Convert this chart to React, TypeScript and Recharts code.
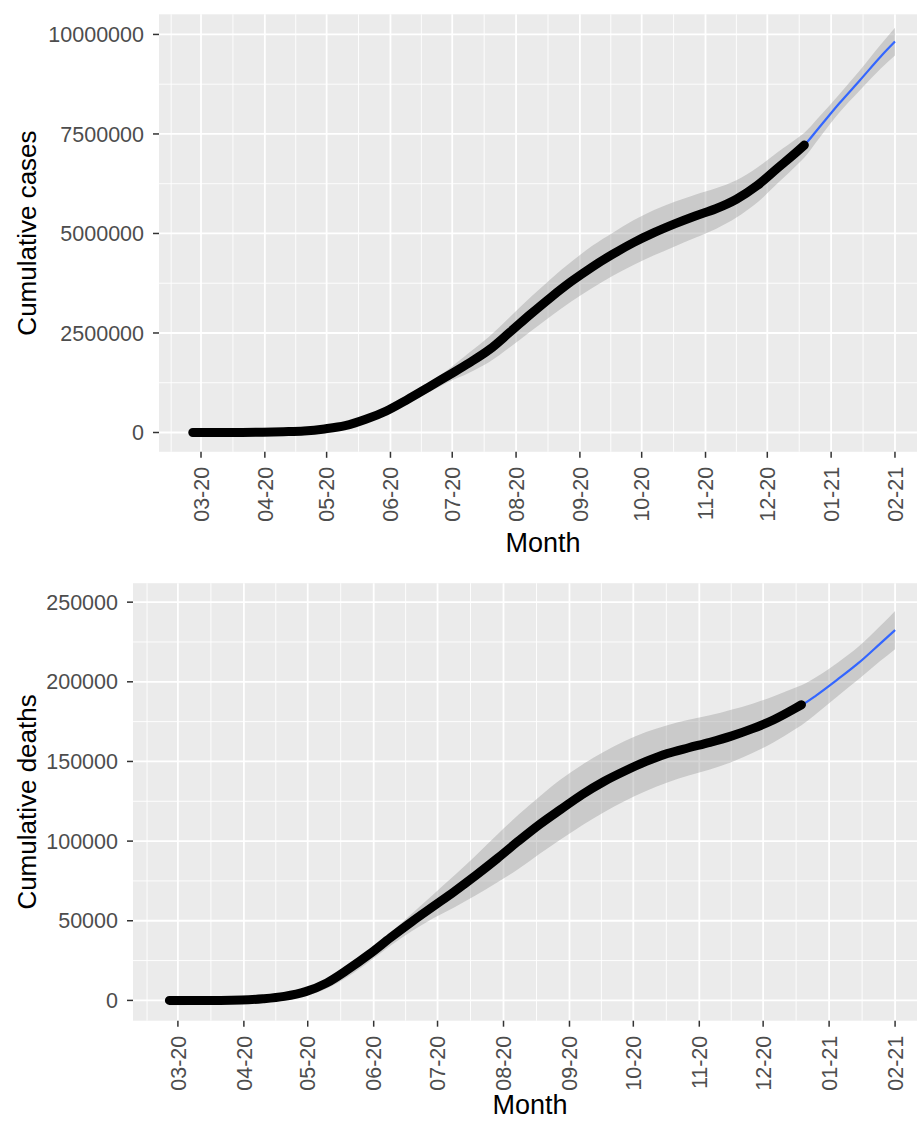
import React from 'react';
import { ComposedChart, Area, Line, XAxis, YAxis, CartesianGrid, Label } from 'recharts';

// days counted from 1 March 2020
const days = [-4, 0, 10, 20, 30, 40, 50, 60, 70, 80, 90, 100, 110, 120, 130, 140, 150, 160, 170, 180, 190, 200, 210, 220, 230, 240, 250, 260, 270, 280, 290, 293, 300, 310, 320, 330, 337];

const monthTicks = [0, 31, 61, 92, 122, 153, 184, 214, 245, 275, 306, 337];
const monthLabels = ['03-20', '04-20', '05-20', '06-20', '07-20', '08-20', '09-20', '10-20', '11-20', '12-20', '01-21', '02-21'];
const monthMinor = [-14.5, 15.5, 46, 76.5, 107, 137.5, 168.5, 199, 229.5, 260, 290.5, 321.5];

// observed values stop at day 293
const casesObserved = [0, 0, 0, 1000, 6000, 20000, 40000, 90000, 170000, 330000, 540000, 820000, 1120000, 1430000, 1740000, 2080000, 2520000, 2970000, 3400000, 3800000, 4160000, 4480000, 4770000, 5020000, 5240000, 5440000, 5620000, 5860000, 6200000, 6640000, 7080000, 7220000];
const casesFit = [-30000, -20000, -10000, 0, 5000, 20000, 45000, 95000, 180000, 330000, 545000, 815000, 1115000, 1425000, 1745000, 2090000, 2520000, 2965000, 3395000, 3795000, 4160000, 4480000, 4770000, 5020000, 5235000, 5435000, 5625000, 5870000, 6210000, 6650000, 7080000, 7220000, 7650000, 8270000, 8850000, 9440000, 9820000];
const casesLow = [-60000, -50000, -40000, -30000, -25000, -10000, 10000, 55000, 130000, 270000, 475000, 725000, 995000, 1265000, 1495000, 1770000, 2140000, 2535000, 2925000, 3295000, 3630000, 3940000, 4210000, 4450000, 4675000, 4895000, 5115000, 5400000, 5770000, 6260000, 6750000, 6910000, 7380000, 8040000, 8600000, 9140000, 9470000];
const casesHigh = [0, 10000, 20000, 30000, 35000, 50000, 80000, 135000, 230000, 390000, 615000, 905000, 1235000, 1585000, 1995000, 2410000, 2900000, 3395000, 3865000, 4295000, 4690000, 5020000, 5330000, 5590000, 5795000, 5975000, 6135000, 6340000, 6650000, 7040000, 7410000, 7530000, 7920000, 8500000, 9100000, 9740000, 10170000];
const casesTicks = [0, 2500000, 5000000, 7500000, 10000000];
const casesMinor = [1250000, 3750000, 6250000, 8750000];

const deathsObserved = [0, 0, 0, 10, 200, 1000, 2500, 5500, 11000, 19500, 29000, 39500, 49500, 59000, 68500, 78500, 89000, 100000, 110500, 120000, 129300, 137300, 144000, 150000, 155000, 158600, 162000, 165900, 170600, 176200, 183300, 185600];
const deathsFit = [-1500, -1500, -1200, -800, -200, 500, 1800, 4500, 9500, 17500, 27500, 38500, 49000, 59000, 68500, 78500, 89000, 99500, 110000, 120000, 129000, 137000, 144000, 150000, 154800, 158700, 162000, 166000, 170800, 176500, 183200, 185300, 191500, 201500, 212000, 224000, 232500];
const deathsLow = [-3000, -3000, -2700, -2300, -1700, -1000, 300, 2700, 7500, 15000, 24500, 34500, 43500, 51500, 58500, 66000, 74000, 82500, 92000, 101200, 110000, 118000, 125200, 131500, 136800, 141200, 145000, 149500, 155300, 162000, 170200, 172800, 180000, 191000, 201700, 213000, 220500];
const deathsHigh = [0, 0, 300, 700, 1300, 2000, 3300, 6300, 11500, 20000, 30500, 42500, 54500, 66500, 78500, 91000, 104000, 116500, 128000, 138800, 148000, 156000, 162800, 168500, 172800, 176200, 179000, 182500, 186300, 191000, 196200, 197800, 203000, 212000, 222300, 235000, 244500];
const deathsTicks = [0, 50000, 100000, 150000, 200000, 250000];
const deathsMinor = [25000, 75000, 125000, 175000, 225000];

const FONT = '"Liberation Sans", Arial, sans-serif';

function buildRows(obs: number[], fit: number[], low: number[], high: number[]) {
  return days.map((d, i) => ({
    day: d,
    obs: i < obs.length ? obs[i] : null,
    fit: fit[i],
    band: [low[i], high[i]],
  }));
}

const MonthTick = (props: any) => {
  const { x, y, payload } = props;
  const label = monthLabels[monthTicks.indexOf(payload.value)];
  return (
    <text x={x} y={y} transform={`rotate(-90, ${x}, ${y})`} textAnchor="end" dy="0.36em"
      fontSize={21.5} fill="#4D4D4D" fontFamily={FONT}
      style={{ fontSize: '21.5px', fill: '#4D4D4D', fontFamily: FONT }}>
      {label}
    </text>
  );
};

type PanelProps = {
  rows: any[];
  height: number;
  marginTop: number;
  yWidth: number;
  xDomain: number[];
  yDomain: number[];
  yTicks: number[];
  yMinor: number[];
  title: string;
  monthOffset: number;
};

const Panel = ({ rows, height, marginTop, yWidth, xDomain, yDomain, yTicks, yMinor, title, monthOffset }: PanelProps) => {
  const plotHeight = 437.5;
  const xAxisHeight = height - marginTop - plotHeight;
  return (
    <ComposedChart width={917} height={height} data={rows} margin={{ top: marginTop, right: 0, bottom: 0, left: 0 }}>
      <CartesianGrid fill="#EBEBEB" stroke="#FFFFFF" strokeWidth={0.9}
        horizontalValues={yMinor} verticalValues={monthMinor} />
      <CartesianGrid stroke="#FFFFFF" strokeWidth={1.8}
        horizontalValues={yTicks} verticalValues={monthTicks} />
      <XAxis dataKey="day" type="number" domain={xDomain} allowDataOverflow ticks={monthTicks} interval={0}
        height={xAxisHeight} axisLine={false} tickSize={6} tickMargin={9}
        tickLine={{ stroke: '#333333', strokeWidth: 1.5 }} tick={<MonthTick />}>
        <Label content={(p: any) => {
          const vb = p.viewBox || { x: yWidth, y: marginTop + plotHeight, width: 917 - yWidth };
          return (
            <text x={vb.x + vb.width / 2 + 5} y={vb.y + monthOffset} textAnchor="middle"
              style={{ fontSize: 27, fill: '#000000', fontFamily: FONT }}>Month</text>
          );
        }} />
      </XAxis>
      <YAxis type="number" domain={yDomain} allowDataOverflow ticks={yTicks} interval={0}
        width={yWidth} axisLine={false} tickSize={6} tickMargin={9}
        tickLine={{ stroke: '#333333', strokeWidth: 1.5 }}
        tickFormatter={(v: number) => String(v)}
        tick={{ fontSize: 21.5, fill: '#4D4D4D', fontFamily: FONT }}>
        <Label content={(p: any) => {
          const vb = p.viewBox || { x: 0, y: marginTop, height: plotHeight };
          const cy = vb.y + vb.height / 2;
          return (
            <text x={36} y={cy} transform={`rotate(-90, 36, ${cy})`} textAnchor="middle"
              style={{ fontSize: 26, fill: '#000000', fontFamily: FONT }}>{title}</text>
          );
        }} />
      </YAxis>
      <Area dataKey="band" type="monotone" stroke="none" fill="#999999" fillOpacity={0.4}
        connectNulls isAnimationActive={false} activeDot={false} />
      <Line dataKey="fit" type="monotone" stroke="#3366FF" strokeWidth={2.2} dot={false}
        isAnimationActive={false} activeDot={false} />
      <Line dataKey="obs" type="monotone" stroke="#000000" strokeWidth={9} strokeLinecap="round"
        dot={false} isAnimationActive={false} activeDot={false} />
    </ComposedChart>
  );
};

export default function App() {
  const casesRows = buildRows(casesObserved, casesFit, casesLow, casesHigh);
  const deathsRows = buildRows(deathsObserved, deathsFit, deathsLow, deathsHigh);
  return (
    <div style={{ position: 'absolute', left: 0, top: 0, width: 917, height: 1121, background: '#FFFFFF', overflow: 'hidden', fontFamily: FONT }}>
      <div style={{ position: 'absolute', left: 0, top: 0 }}>
        <Panel rows={casesRows} height={560} marginTop={14.3} yWidth={159}
          xDomain={[-20.4, 347.7]} yDomain={[-485000, 10506000]}
          yTicks={casesTicks} yMinor={casesMinor} title="Cumulative cases" monthOffset={100} />
      </div>
      <div style={{ position: 'absolute', left: 0, top: 560 }}>
        <Panel rows={deathsRows} height={561} marginTop={23.2} yWidth={133}
          xDomain={[-21.1, 347.3]} yDomain={[-12740, 261900]}
          yTicks={deathsTicks} yMinor={deathsMinor} title="Cumulative deaths" monthOffset={93} />
      </div>
    </div>
  );
}
